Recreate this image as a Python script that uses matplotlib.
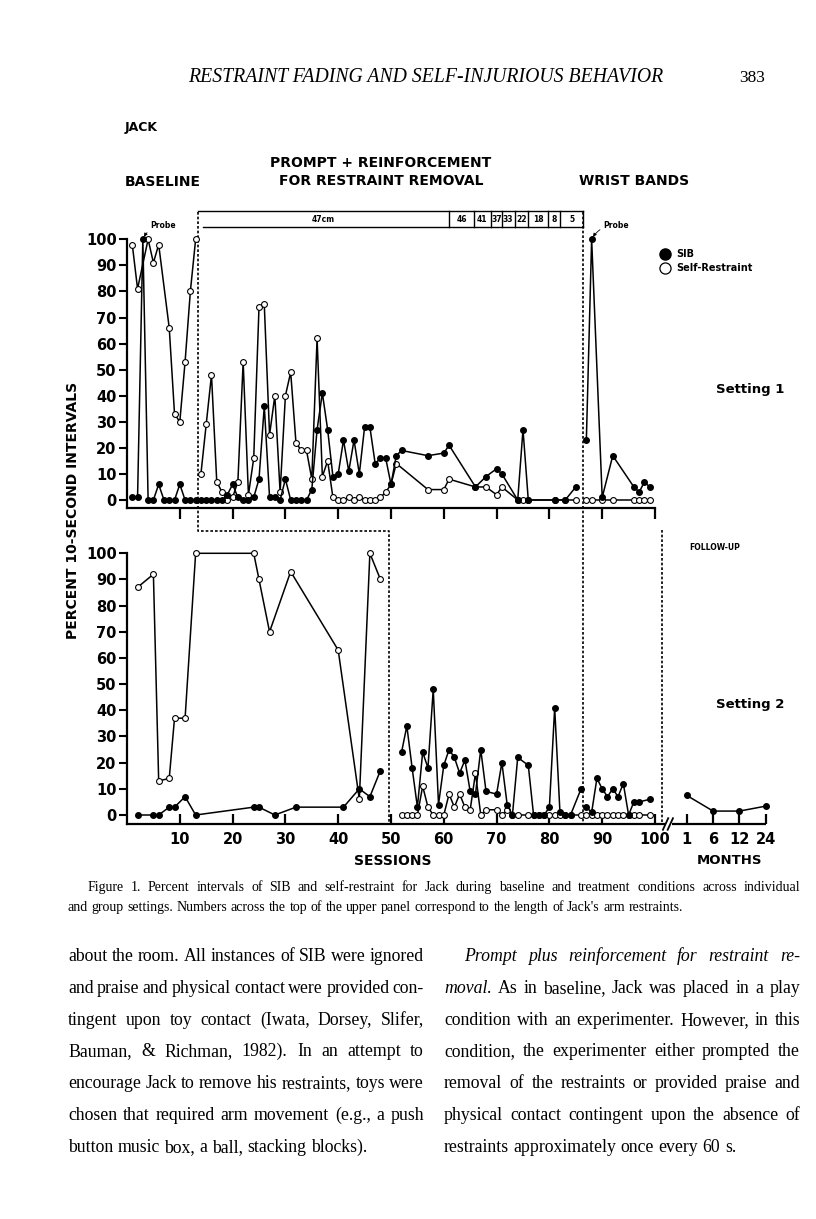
import matplotlib
matplotlib.use('Agg')
import matplotlib.pyplot as plt
import matplotlib.transforms as mtransforms

plt.rcParams['font.family'] = 'DejaVu Sans'
plt.rcParams['font.weight'] = 'bold'

# ---- data: percent of 10-s intervals ----
# setting 1 (upper panel)
s1_base_sib_x = list(range(1, 14))
s1_base_sib = [1, 1, 100, 0, 0, 6, 0, 0, 0, 6, 0, 0, 0]
s1_base_sr_x = [1, 2, 4, 5, 6, 8, 9, 10, 11, 12, 13]
s1_base_sr = [98, 81, 100, 91, 98, 66, 33, 30, 53, 80, 100]

s1_trt_sib_x = list(range(14, 53)) + [57, 60, 61, 66, 68, 70, 71, 74, 75, 76, 81, 83, 85]
s1_trt_sib = [0, 0, 0, 0, 0, 2, 6, 1, 0, 0, 1, 8, 36, 1, 1, 0, 8, 0, 0, 0,
              0, 4, 27, 41, 27, 9, 10, 23, 11, 23, 10, 28, 28, 14, 16, 16, 6, 17, 19,
              17, 18, 21, 5, 9, 12, 10, 0, 27, 0, 0, 0, 5]
s1_trt_sr_x = list(range(14, 52)) + [57, 60, 61, 66, 68, 70, 71, 74, 75, 76, 81, 83, 85]
s1_trt_sr = [10, 29, 48, 7, 3, 0, 1, 7, 53, 2, 16, 74, 75, 25, 40, 3, 40, 49, 22, 19,
             19, 8, 62, 9, 15, 1, 0, 0, 1, 0, 1, 0, 0, 0, 1, 3, 6, 14,
             4, 4, 8, 5, 5, 2, 5, 0, 0, 0, 0, 0, 0]

s1_wb_x = [87, 88, 90, 92, 96, 97, 98, 99]
s1_wb_sib = [23, 100, 1, 17, 5, 3, 7, 5]
s1_wb_sr = [0, 0, 0, 0, 0, 0, 0, 0]

# setting 2 (lower panel)
s2_base_sib_x = [2, 5, 6, 8, 9, 11, 13, 24, 25, 28, 32, 41, 44, 46, 48]
s2_base_sib = [0, 0, 0, 3, 3, 7, 0, 3, 3, 0, 3, 3, 10, 7, 17]
s2_base_sr_x = [2, 5, 6, 8, 9, 11, 13, 24, 25, 27, 31, 40, 44, 46, 48]
s2_base_sr = [87, 92, 13, 14, 37, 37, 100, 100, 90, 70, 93, 63, 6, 100, 90]

s2_trt_x = list(range(52, 69)) + list(range(70, 75)) + list(range(76, 85)) + [86]
s2_trt_sib = [24, 34, 18, 3, 24, 18, 48, 4, 19, 25, 22, 16, 21, 9, 8, 25, 9,
              8, 20, 4, 0, 22, 19, 0, 0, 0, 3, 41, 1, 0, 0, 10]
s2_trt_sr = [0, 0, 0, 0, 11, 3, 0, 0, 0, 8, 3, 8, 3, 2, 16, 0, 2,
             2, 0, 2, 0, 0, 0, 0, 0, 0, 0, 0, 0, 0, 0, 0]

s2_wb_x = list(range(87, 98)) + [99]
s2_wb_sib = [3, 1, 14, 10, 7, 10, 7, 12, 0, 5, 5, 6]
s2_wb_sr = [0] * 12

fu_months = ['1', '6', '12', '24']
fu_sib = [7.5, 1.5, 1.5, 3.4]

# restraint length per block of sessions (upper panel)
restraint_cm = ['47cm', '46', '41', '37', '33', '22', '18', '8', '5']
restraint_edges = [13.5, 61.0, 65.7, 68.9, 71.0, 73.4, 75.9, 79.8, 82.1, 86.4]

# ---- page / layout ----
W, H = 816, 1219
fig = plt.figure(figsize=(W / 100, H / 100), dpi=100)


def fx(px):
    return px / W


def fy(py):
    return 1 - py / H


X0 = 127          # pixel of session 0
PPS = 5.28        # pixels per session
XR = 775
XMAX = (XR - X0) / PPS


def make_axes(top_px, zero_px, bottom_px, ppu):
    ax = fig.add_axes([fx(X0), fy(bottom_px), (XR - X0) / W, (bottom_px - top_px) / H])
    ax.set_xlim(0, XMAX)
    ax.set_ylim(-(bottom_px - zero_px) / ppu, (zero_px - top_px) / ppu)
    ax.patch.set_alpha(0)
    for sp in ['top', 'right']:
        ax.spines[sp].set_visible(False)
    for sp in ['left', 'bottom']:
        ax.spines[sp].set_linewidth(1.6)
    ax.spines['left'].set_bounds(ax.get_ylim()[0], 100)
    ax.set_yticks(range(0, 101, 10))
    ax.tick_params(axis='y', direction='out', length=6, width=1.5, pad=1.5, labelsize=10.5)
    return ax


ax1 = make_axes(226, 500, 508, 2.607)
ax2 = make_axes(540, 815, 824, 2.617)

ax1.spines['bottom'].set_bounds(0, 100)
ax1.set_xticks(range(10, 101, 10))
ax1.tick_params(axis='x', direction='out', length=8, width=1.6, labelbottom=False)

fu_pos = [106, 111, 116, 121]
ax2.spines['bottom'].set_bounds(0, 101.7)
ax2.set_xticks(list(range(10, 101, 10)) + fu_pos)
ax2.set_xticklabels([str(v) for v in range(10, 101, 10)] + fu_months)
ax2.tick_params(axis='x', direction='in', length=7, width=1.6, pad=6, labelsize=10.5)
yb = ax2.get_ylim()[0]
ax2.plot([103.3, 121], [yb, yb], color='k', lw=1.6, clip_on=False, solid_capstyle='butt')
for bx in [102.0, 102.9]:
    ax2.plot([bx - 0.5, bx + 0.5], [yb - 2.2, yb + 2.2], color='k', lw=1.3, clip_on=False)


def series(ax, x, y, filled):
    if filled:
        ax.plot(x, y, '-o', color='k', lw=1.1, ms=4.0, mfc='k', mec='k', clip_on=False, zorder=4)
    else:
        ax.plot(x, y, '-o', color='k', lw=1.1, ms=4.2, mfc='white', mec='k', mew=0.8,
                clip_on=False, zorder=3)


series(ax1, s1_base_sr_x, s1_base_sr, False)
series(ax1, s1_base_sib_x, s1_base_sib, True)
series(ax1, s1_trt_sr_x, s1_trt_sr, False)
series(ax1, s1_trt_sib_x, s1_trt_sib, True)
series(ax1, s1_wb_x, s1_wb_sr, False)
series(ax1, s1_wb_x, s1_wb_sib, True)

series(ax2, s2_base_sr_x, s2_base_sr, False)
series(ax2, s2_base_sib_x, s2_base_sib, True)
series(ax2, s2_trt_x, s2_trt_sr, False)
series(ax2, s2_trt_x, s2_trt_sib, True)
series(ax2, s2_wb_x, s2_wb_sr, False)
series(ax2, s2_wb_x, s2_wb_sib, True)
series(ax2, fu_pos, fu_sib, True)

# phase change lines (x in sessions, y in page pixels)
trans = mtransforms.blended_transform_factory(ax1.transData, fig.transFigure)
dash = dict(color='k', lw=1.2, ls=(0, (1.6, 1.2)), transform=trans, clip_on=False)
ax1.plot([13.5, 13.5, 49.7, 49.7], [fy(212), fy(531), fy(531), fy(825)], **dash)
ax1.plot([86.4, 86.4], [fy(212), fy(825)], **dash)
ax1.plot([101.3, 101.3], [fy(530), fy(825)], **dash)

# restraint length boxes
y_top = (500 - 211) / 2.607
y_bot = (500 - 227) / 2.607
box = dict(color='k', lw=1.0, clip_on=False)
ax1.plot([restraint_edges[0], restraint_edges[-1]], [y_top, y_top], **box)
ax1.plot([restraint_edges[0] + 0.9, restraint_edges[-1]], [y_bot, y_bot], **box)
for e in restraint_edges[1:]:
    ax1.plot([e, e], [y_bot, y_top], **box)
for i, lab in enumerate(restraint_cm):
    ax1.text((restraint_edges[i] + restraint_edges[i + 1]) / 2, (y_top + y_bot) / 2, lab,
             ha='center', va='center', fontsize=5.5)

# probe notes
arrow = dict(arrowstyle='-|>', lw=0.6, color='k', mutation_scale=5, shrinkA=0, shrinkB=2,
             connectionstyle='arc3,rad=0.3')
ax1.annotate('Probe', xy=(3, 100), xytext=(5, 10), textcoords='offset points',
             fontsize=5.5, ha='left', va='center', arrowprops=arrow)
ax1.annotate('Probe', xy=(88, 100), xytext=(8, 10), textcoords='offset points',
             fontsize=5.5, ha='left', va='center', arrowprops=arrow)

# legend
ax1.plot([fx(665)], [fy(254)], 'o', ms=8, mfc='k', mec='k', transform=fig.transFigure, clip_on=False)
ax1.plot([fx(665)], [fy(268)], 'o', ms=8, mfc='white', mec='k', mew=0.9,
         transform=fig.transFigure, clip_on=False)
fig.text(fx(676), fy(254), 'SIB', fontsize=7, va='center')
fig.text(fx(676), fy(268), 'Self-Restraint', fontsize=7, va='center')

# panel labels
fig.text(fx(750), fy(389), 'Setting 1', fontsize=9.5, ha='center', va='center')
fig.text(fx(750), fy(704), 'Setting 2', fontsize=9.5, ha='center', va='center')
fig.text(fx(715), fy(548), 'FOLLOW-UP', fontsize=5.5, ha='center', va='center')
fig.text(fx(73), fy(510), 'PERCENT 10-SECOND INTERVALS', fontsize=10, rotation=90,
         ha='center', va='center')
fig.text(fx(393), fy(861), 'SESSIONS', fontsize=10, ha='center', va='center')
fig.text(fx(729), fy(861), 'MONTHS', fontsize=9.5, ha='center', va='center')

fig.text(fx(125), fy(128), 'JACK', fontsize=9, va='center')
fig.text(fx(125), fy(182), 'BASELINE', fontsize=10, va='center')
fig.text(fx(381), fy(163), 'PROMPT + REINFORCEMENT', fontsize=10, ha='center', va='center')
fig.text(fx(381), fy(181), 'FOR RESTRAINT REMOVAL', fontsize=10, ha='center', va='center')
fig.text(fx(634), fy(181), 'WRIST BANDS', fontsize=10, ha='center', va='center')

# ---- running head, caption and body text ----
renderer = fig.canvas.get_renderer()
SERIF = 'Liberation Serif'


def words_of(line):
    out = []
    for w in line.split():
        if w.startswith('*'):
            out.append((w[1:], 'italic'))
        else:
            out.append((w, 'normal'))
    return out


def width_of(s, size, style):
    t = fig.text(0, 0, s, fontsize=size, family=SERIF, style=style, fontweight='normal')
    w = t.get_window_extent(renderer).width
    t.remove()
    return w


def fit_size(lines, width, base, indent=0):
    # largest size (<= base) at which every justified line still has a small gap
    best = base
    for i, line in enumerate(lines[:-1]):
        ws = words_of(line)
        nat = sum(width_of(w, base, st) for w, st in ws) + (len(ws) - 1) * base * 100 / 72 * 0.18
        avail = width - (indent if i == 0 else 0)
        best = min(best, base * avail / nat)
    return best


def block(lines, x0, x1, y0, dy, size, indent=0):
    space = size * 100 / 72 * 0.25
    for i, line in enumerate(lines):
        ws = words_of(line)
        arts = [fig.text(0, fy(y0 + i * dy), w, fontsize=size, family=SERIF, style=st,
                         fontweight='normal', va='baseline') for w, st in ws]
        widths = [a.get_window_extent(renderer).width for a in arts]
        left = x0 + (indent if i == 0 else 0)
        if i < len(lines) - 1 and len(arts) > 1:
            gap = (x1 - left - sum(widths)) / (len(arts) - 1)
        else:
            gap = space
        x = left
        for a, w in zip(arts, widths):
            a.set_x(fx(x))
            x += w + gap


head = 'RESTRAINT FADING AND SELF-INJURIOUS BEHAVIOR'
hs = 12 * 472 / width_of(head, 12, 'italic')
fig.text(fx(426), fy(78), head, fontsize=hs, family=SERIF, style='italic', fontweight='normal',
         ha='center', va='center')
fig.text(fx(752), fy(78), '383', fontsize=12.5, family=SERIF, fontweight='normal',
         ha='center', va='center')

caption = [
    'Figure 1.  Percent intervals of SIB and self-restraint for Jack during baseline and treatment conditions across individual',
    "and group settings. Numbers across the top of the upper panel correspond to the length of Jack's arm restraints.",
]
block(caption, 68, 800, 891, 20, fit_size(caption, 732, 10, indent=20), indent=20)

left_col = [
    'about the room. All instances of SIB were ignored',
    'and praise and physical contact were provided con-',
    'tingent upon toy contact (Iwata, Dorsey, Slifer,',
    'Bauman, & Richman, 1982). In an attempt to',
    'encourage Jack to remove his restraints, toys were',
    'chosen that required arm movement (e.g., a push',
    'button music box, a ball, stacking blocks).',
]
right_col = [
    '*Prompt *plus *reinforcement *for *restraint *re-',
    '*moval. As in baseline, Jack was placed in a play',
    'condition with an experimenter. However, in this',
    'condition, the experimenter either prompted the',
    'removal of the restraints or provided praise and',
    'physical contact contingent upon the absence of',
    'restraints approximately once every 60 s.',
]
body_size = min(fit_size(left_col, 356, 13.5), fit_size(right_col, 356, 13.5, indent=20))
block(left_col, 68, 424, 961, 31.8, body_size)
block(right_col, 444, 800, 961, 31.8, body_size, indent=20)

fig.savefig('out.png', dpi=100)
